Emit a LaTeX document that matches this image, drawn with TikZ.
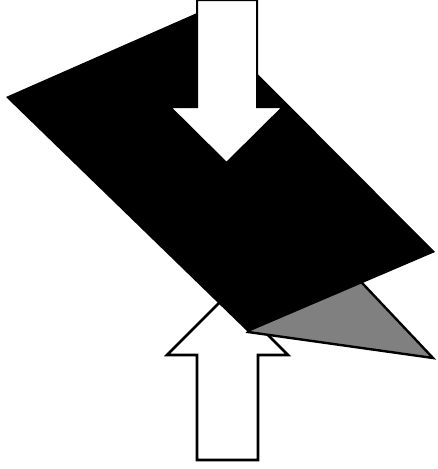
\documentclass[tikz,border=0pt]{standalone}
\usepackage{tikz}
\definecolor{wedgegray}{RGB}{128, 128, 128}

\begin{document}
\begin{tikzpicture}[x=1pt, y=-1pt]
    \useasboundingbox (0,0) rectangle (437,469);
    % corners of the slab
    \coordinate (slabL) at (6,97);
    \coordinate (slabT) at (197,13);
    \coordinate (slabR) at (435,252);
    \coordinate (slabB) at (248,332);
    % lower arrow, behind the slab
    \draw[draw=black, fill=white, line width=2.6pt, line join=miter] 
        (197,460) -- (197,355) -- (167,355) -- (227.5,294.5) -- (288,355) -- (258,355) -- (258,460) -- cycle;
    % gray wedge
    \draw[draw=black, fill=wedgegray, line width=2.4pt, line join=miter] 
        (slabB) -- (433,358) -- (330,249) -- cycle;
    % black slab
    \fill[black] (slabL) -- (slabT) -- (slabR) -- (slabB) -- cycle;
    % upper arrow
    \draw[draw=black, fill=white, line width=2pt, line join=miter] 
        (197,0) -- (197,107) -- (170,107) -- (226.5,163) -- (283,107) -- (257,107) -- (257,0) -- cycle;
\end{tikzpicture}
\end{document}
